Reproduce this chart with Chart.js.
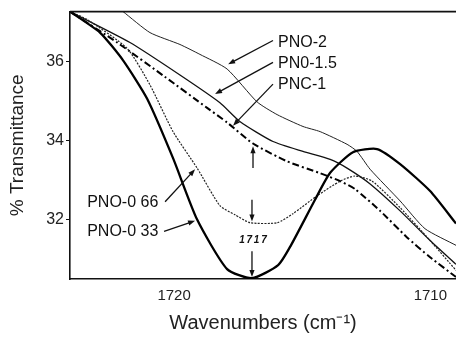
<!DOCTYPE html>
<html>
<head>
<meta charset="utf-8">
<title>Carbonyl band – PNO films</title>
<script src="https://cdn.jsdelivr.net/npm/chart.js@4.4.1/dist/chart.umd.min.js"></script>
<style>
  html, body { margin: 0; padding: 0; background: #fff; overflow: hidden; }
  #wrap { width: 456px; height: 338px; }
</style>
</head>
<body>
<div id="wrap"><canvas id="ftir" width="456" height="338"></canvas></div>
<script>
// ─── Data ─────────────────────────────────────────────────────────────────────

const X_TICKS = [1720, 1710];
const Y_TICKS = [32, 34, 36];

// PNO-0.33
const wn033 = [1724.06, 1722.89, 1721.99, 1721.05, 1720.04, 1719.10, 1717.93, 1716.96, 1715.94, 1715.44, 1714.50, 1713.91, 1713.02, 1712.08, 1711.18, 1710.01, 1709.0];
const tr033 = [37.25, 36.72, 36.02, 35.05, 33.55, 32.0, 30.75, 30.52, 30.85, 31.35, 32.5, 33.18, 33.7, 33.78, 33.4, 32.72, 31.9];

// PNO-0.66
const wn066 = [1724.06, 1723.39, 1721.83, 1720.94, 1720.04, 1719.10, 1718.21, 1717.62, 1717.03, 1715.98, 1715.36, 1714.42, 1713.52, 1712.94, 1712.27, 1711.18, 1710.01, 1709.0];
const tr066 = [37.25, 37.05, 36.32, 35.4, 34.22, 33.3, 32.35, 32.12, 31.92, 31.92, 32.15, 32.6, 32.97, 33.1, 32.97, 32.3, 31.47, 30.72];

// PNO-1
const wn1 = [1724.06, 1722.22, 1720.35, 1718.71, 1717.93, 1716.92, 1715.59, 1714.30, 1713.52, 1712.94, 1711.96, 1710.91, 1710.01, 1709.0];
const tr1 = [37.25, 36.47, 35.6, 34.82, 34.45, 33.92, 33.47, 33.17, 32.97, 32.77, 32.22, 31.55, 31.05, 30.55];

// PNO-1.5
const wn15 = [1724.06, 1721.72, 1719.77, 1718.21, 1717.42, 1716.14, 1714.97, 1713.91, 1713.25, 1712.35, 1711.18, 1710.01, 1709.0];
const tr15 = [37.25, 36.47, 35.65, 34.95, 34.47, 33.97, 33.72, 33.52, 33.3, 32.9, 32.22, 31.47, 30.87];

// PNO-2
const wn2 = [1721.99, 1720.94, 1719.77, 1718.99, 1717.93, 1716.76, 1715.98, 1714.97, 1714.30, 1713.25, 1712.86, 1712.35, 1711.18, 1710.21, 1709.0];
const tr2 = [37.25, 36.72, 36.42, 36.17, 35.8, 34.97, 34.65, 34.35, 34.22, 33.9, 33.72, 33.27, 32.47, 31.77, 31.35];

// callout text, anchored in data units (left edge, middle)
const LABEL_TEXT = ['PNO-2', 'PN0-1.5', 'PNC-1', 'PNO-0 66', 'PNO-0 33'];
const LABEL_X    = [1715.94, 1715.94, 1715.94, 1723.39, 1723.39];
const LABEL_Y    = [36.47, 35.95, 35.4, 32.42, 31.7];

// arrows: tail -> head, data units
const ARROW_FROM = [[1716.14, 36.52], [1716.14, 35.97], [1716.14, 35.42], [1720.35, 32.45], [1720.39, 31.7],
                    [1716.92, 33.3], [1716.96, 32.5], [1716.96, 31.2]];
const ARROW_TO   = [[1717.89, 35.92], [1718.40, 35.17], [1717.70, 34.37], [1719.18, 33.27], [1719.18, 31.97],
                    [1716.92, 33.85], [1716.96, 31.95], [1716.96, 30.55]];

const PEAK_LABEL = '1717';
const PEAK_POS = [1716.92, 31.47];

// ─── Helpers ──────────────────────────────────────────────────────────────────

const FONT = "'Liberation Sans', Arial, Helvetica, sans-serif";
const zip = (xs, ys) => xs.map((x, i) => ({ x, y: ys[i] }));

function drawArrow(ctx, x1, y1, x2, y2) {
  const ang = Math.atan2(y2 - y1, x2 - x1);
  const len = 7, half = 2.6;
  ctx.beginPath();
  ctx.moveTo(x1, y1);
  ctx.lineTo(x2 - Math.cos(ang) * len * 0.8, y2 - Math.sin(ang) * len * 0.8);
  ctx.stroke();
  ctx.beginPath();
  ctx.moveTo(x2, y2);
  ctx.lineTo(x2 - Math.cos(ang) * len - Math.sin(ang) * half, y2 - Math.sin(ang) * len + Math.cos(ang) * half);
  ctx.lineTo(x2 - Math.cos(ang) * len + Math.sin(ang) * half, y2 - Math.sin(ang) * len - Math.cos(ang) * half);
  ctx.closePath();
  ctx.fill();
}

// frame top edge, labels and arrows
const calloutPlugin = {
  id: 'callouts',
  afterDraw(chart) {
    const { ctx, chartArea, scales: { x, y } } = chart;
    ctx.save();

    ctx.strokeStyle = '#111';
    ctx.lineWidth = 1.6;
    ctx.beginPath();
    ctx.moveTo(chartArea.left, chartArea.top);
    ctx.lineTo(chartArea.right, chartArea.top);
    ctx.stroke();

    ctx.fillStyle = '#111';
    ctx.font = `16px ${FONT}`;
    ctx.textAlign = 'left';
    ctx.textBaseline = 'middle';
    LABEL_TEXT.forEach((t, i) => {
      ctx.fillText(t, x.getPixelForValue(LABEL_X[i]), y.getPixelForValue(LABEL_Y[i]));
    });

    ctx.lineWidth = 1.3;
    ARROW_FROM.forEach((a, i) => {
      const b = ARROW_TO[i];
      drawArrow(ctx,
        x.getPixelForValue(a[0]), y.getPixelForValue(a[1]),
        x.getPixelForValue(b[0]), y.getPixelForValue(b[1]));
    });

    // bold italic peak label, spaced out by hand
    ctx.font = `italic bold 10px ${FONT}`;
    ctx.textAlign = 'center';
    const px = x.getPixelForValue(PEAK_POS[0]);
    const py = y.getPixelForValue(PEAK_POS[1]);
    const step = 7.3;
    [...PEAK_LABEL].forEach((ch, i) => {
      ctx.fillText(ch, px + (i - (PEAK_LABEL.length - 1) / 2) * step, py);
    });

    ctx.restore();
  },
};

// ─── Chart ────────────────────────────────────────────────────────────────────

const series = [
  { label: 'PNO-0.33', data: zip(wn033, tr033), borderColor: '#000', borderWidth: 2.3 },
  { label: 'PNO-0.66', data: zip(wn066, tr066), borderColor: '#222', borderWidth: 1.2, borderDash: [2, 1.3] },
  { label: 'PNO-1',    data: zip(wn1, tr1),     borderColor: '#000', borderWidth: 2, borderDash: [7, 3, 2, 3] },
  { label: 'PNO-1.5',  data: zip(wn15, tr15),   borderColor: '#111', borderWidth: 1.3 },
  { label: 'PNO-2',    data: zip(wn2, tr2),     borderColor: '#222', borderWidth: 1 },
];

new Chart(document.getElementById('ftir'), {
  type: 'line',
  data: {
    datasets: series.map(s => ({
      ...s,
      pointRadius: 0,
      tension: 0.2,
      fill: false,
    })),
  },
  options: {
    responsive: false,
    animation: false,
    parsing: false,
    layout: { padding: { top: 9, right: 0, left: 0, bottom: 0 } },
    plugins: { legend: { display: false }, tooltip: { enabled: false } },
    scales: {
      x: {
        type: 'linear',
        reverse: true,
        min: 1709,
        max: 1724.06,
        afterBuildTicks: s => { s.ticks = X_TICKS.map(v => ({ value: v })); },
        afterFit: s => { s.height = 59; },
        grid: { drawOnChartArea: false, drawTicks: true, tickLength: 3, tickColor: 'rgba(0,0,0,0)' },
        border: { display: true, color: '#111', width: 1.6 },
        ticks: {
          color: '#222',
          font: { family: FONT, size: 15 },
          padding: 5,
          maxRotation: 0,
          callback: v => String(v),
        },
        title: {
          display: true,
          text: 'Wavenumbers (cm⁻¹)',
          color: '#222',
          font: { family: FONT, size: 20 },
          padding: { top: 0, bottom: 3 },
        },
      },
      y: {
        type: 'linear',
        min: 30.5,
        max: 37.25,
        afterBuildTicks: s => { s.ticks = Y_TICKS.map(v => ({ value: v })); },
        afterFit: s => { s.width = 70; },
        grid: { drawOnChartArea: false, drawTicks: true, tickLength: 4, tickColor: '#111' },
        border: { display: true, color: '#111', width: 1.6 },
        ticks: { color: '#222', font: { family: FONT, size: 16 }, padding: 2 },
        title: {
          display: true,
          text: '% Transmittance',
          color: '#222',
          font: { family: FONT, size: 19 },
          padding: { top: 6, bottom: 0 },
        },
      },
    },
  },
  plugins: [calloutPlugin],
});
</script>
</body>
</html>
